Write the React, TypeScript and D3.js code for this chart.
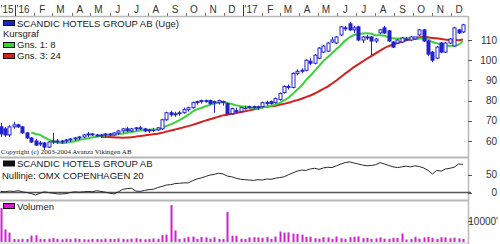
import React from 'react';
import * as d3 from 'd3';

// Weekly candles, Scandic Hotels Group AB (week dates start 9 Dec 2015)
const START = new Date(2015, 11, 9);

const opens = [67, 66, 63, 67, 68, 67, 64, 61.5, 60, 58.5, 59, 57, 59.5, 60, 59.5, 60, 60.5, 61, 61.5, 62,
  63, 63.5, 63, 62.5, 63, 63.5, 63, 64, 65, 66, 65, 66, 66.5, 66, 65, 65.5, 65.5, 66, 70.5, 74,
  73, 73.5, 74, 75.5, 76.5, 79, 79.5, 80, 80, 79, 79, 79, 78.5, 73.5, 75, 74.5, 76.5, 76.5, 77, 76.5,
  77, 79, 79.5, 79, 80.5, 84, 87, 86.5, 93.5, 94.5, 95, 99.5, 98.5, 101, 104, 104.5, 109, 108.5, 112.5, 116,
  118, 115, 116.5, 110, 111.5, 111.5, 109.5, 113.5, 116, 114.5, 109, 108.5, 109, 110, 110, 110.5, 112.5, 115, 109.5, 104,
  101, 108.5, 104, 108.5, 107, 115, 114];
const highs = [69, 67, 68, 69.5, 68.5, 67.5, 64.5, 62, 61, 60, 59.5, 60, 64, 61, 60.5, 61, 61.5, 62, 62.5, 63.5,
  64.5, 64, 63.5, 63.5, 64, 64, 64.5, 65.5, 66.5, 67, 66.5, 67, 67.5, 66.5, 66, 66.5, 67, 71, 74.5, 75,
  74.5, 75, 76.5, 77, 79.5, 80, 80.5, 80.5, 80.5, 80, 80.5, 80, 79, 76.5, 76.5, 77, 77.5, 77.5, 77.5, 77.5,
  79.5, 80, 80, 81.5, 84, 87.5, 88, 94, 95.5, 96, 100.5, 101, 103, 106.5, 107.5, 109, 111.5, 112, 117, 117,
  119, 117, 117, 112, 112.5, 112, 111, 115.5, 117, 115, 109.5, 110.5, 111.5, 111.5, 112, 111.5, 115.5, 115.5, 110, 104.5,
  107, 109, 109, 111, 116.5, 115.5, 118];
const lows = [62, 62, 62, 66, 66.5, 63.5, 61, 59, 57.5, 57.5, 55.5, 56.5, 58.5, 58.5, 58.5, 59, 59.5, 60, 60.5, 61.5,
  62, 62.5, 62, 61.5, 62, 62.5, 62.5, 63, 64, 64.5, 64.5, 65, 65.5, 64.5, 64, 64.5, 65, 65.5, 70, 72,
  72, 72.5, 73.5, 74.5, 76, 78, 78.5, 79, 78, 74, 78, 77.5, 73, 73, 74, 74, 75.5, 76, 76, 75.5,
  76.5, 77.5, 78, 78.5, 80, 83.5, 85.5, 86, 92.5, 93.5, 94.5, 97.5, 98, 100.5, 103.5, 104, 108.5, 108, 112, 114.5,
  114.5, 113.5, 109.5, 108.5, 110, 102.5, 108.5, 113, 113, 109, 106, 108, 108.5, 109.5, 109.5, 110, 112, 109, 102, 99,
  100.5, 103.5, 103.5, 108, 106.5, 113, 113.5];
const closes = [63.5, 63, 67, 68, 67, 64, 61.5, 59.5, 58, 59, 57, 59.5, 60, 59.5, 60, 60.5, 61, 61.5, 62, 63,
  63.5, 63, 62.5, 63, 63.5, 63, 64, 65, 66, 65, 66, 66.5, 66, 65, 65.5, 65.5, 66.5, 70.5, 74, 73,
  73.5, 74, 75.5, 76.5, 79, 79.5, 80, 79.5, 78.5, 79.5, 80, 79.5, 73.5, 76, 74.5, 76.5, 76.5, 77, 76.5, 77,
  79, 78.5, 78.5, 81, 83.5, 87, 86.5, 93.5, 94.5, 95, 100, 98.5, 102.5, 106, 107, 108.5, 110, 111.5, 116.5, 115.5,
  115, 116, 110, 111.5, 111, 109.5, 110.5, 115, 113.5, 109.5, 106.5, 110, 111, 110.5, 111.5, 111.5, 115, 109.5, 103, 100,
  106.5, 104, 108.5, 110.5, 116, 113.5, 117.5];

// Relative to OMX Copenhagen 20 (null line = 0)
const relValues = [3, 2, 4, 3, 5, 2, 0, -3, -7, -2, 2, 0, -2, -4, -4, -3, 0, 2, 1, 2,
  3, 2, 5, 3, 1, -2, -4, 2, 9, 11, 12, 4, 3, 6, 8, 9, 14, 17, 21, 22,
  25, 26, 27, 27, 33, 38, 41, 45, 49, 51, 54, 52, 46, 44, 40, 37, 36, 35, 34, 36,
  35, 38, 37, 40, 42, 44, 50, 55, 60, 63, 62, 66, 68, 65, 69, 71, 70, 75, 80, 84,
  86, 83, 80, 77, 75, 76, 78, 84, 80, 76, 72, 70, 72, 74, 72, 75, 73, 69, 62, 52,
  62, 60, 66, 68, 71, 80, 79];

// Weekly volume (thousands)
const volumes = [16200, 6000, 4500, 1400, 1300, 1500, 1400, 3000, 3200, 1500, 1400, 1600, 1900, 1500, 1300, 1600, 1400, 1700, 1500, 1300,
  1200, 1500, 1400, 1300, 1600, 1500, 1400, 1700, 1500, 1300, 1600, 1800, 1500, 1300, 1500, 1700, 1500, 3300, 3500, 17600,
  5500, 1500, 1800, 2500, 2600, 1500, 2400, 2200, 1600, 2300, 1500, 1400, 14300, 3000, 3000, 1500, 1400, 2200, 2300, 2200,
  2000, 2400, 1500, 2600, 5000, 4500, 4600, 4000, 3800, 3500, 2400, 2500, 1800, 1600, 2300, 2200, 1500, 2600, 1800, 1500,
  2300, 2500, 2700, 1800, 2000, 1500, 1700, 2200, 1600, 1500, 2000, 1900, 4000, 1200, 1400, 2500, 1600, 2200, 2400, 2000,
  1500, 2300, 2200, 1800, 2100, 1700, 1500];

const monthLabels = ["'15", "'16", 'F', 'M', 'A', 'M', 'J', 'J', 'A', 'S', 'O', 'N', 'D',
  "'17", 'F', 'M', 'A', 'M', 'J', 'J', 'A', 'S', 'O', 'N', 'D'];
const priceTicks = [60, 70, 80, 90, 100, 110];
const relTicks = [0, 50];
const volTicks = [10000];
const maPeriods = [8, 24];

const BLUE = '#2323cc';
const GREEN = '#3ad13a';
const RED = '#d42222';
const MAGENTA = '#d11fd1';
const FONT = 'Liberation Sans, Arial, sans-serif';

function sma(arr: number[], n: number): (number | null)[] {
  return arr.map((_, i) => (i < n - 1 ? null : (d3.mean(arr.slice(i - n + 1, i + 1)) as number)));
}

export default function App() {
  React.useEffect(() => {
    document.body.style.margin = '0';
  }, []);

  const x = d3.scaleTime().domain([new Date(2016, 0, 1), new Date(2017, 0, 1)]).range([15, 243]);
  const dates = closes.map((_, i) => d3.timeDay.offset(START, 7 * i));
  const yMain = d3.scaleLinear().domain([60, 110]).range([141, 40]);
  const yRel = d3.scaleLinear().domain([0, 50]).range([192.5, 174.7]);
  const yVol = d3.scaleLinear().domain([0, 10000]).range([242, 221]);

  const months = d3.timeMonth.range(new Date(2015, 11, 1), new Date(2018, 0, 1));

  const ma1 = sma(closes, maPeriods[0]);
  const ma2 = sma(closes, maPeriods[1]);
  const maLine = d3
    .line<number | null>()
    .defined((d) => d != null)
    .x((_, i) => x(dates[i]))
    .y((d) => yMain(d as number))
    .curve(d3.curveMonotoneX);
  const relLine = d3
    .line<number>()
    .x((_, i) => x(dates[i]))
    .y((d) => yRel(d));

  const px = (i: number) => Math.round(x(dates[i])) + 0.5;
  const RIGHT = 468;
  const textStyle = { fontFamily: FONT, fontSize: 9.5, fill: '#1a1a1a' };
  const axisStyle = { fontFamily: FONT, fontSize: 10, fill: '#333' };

  return (
    <svg width={500} height={244} style={{ position: 'absolute', left: 0, top: 0, background: '#fff' }}>
      <rect x={0} y={0} width={500} height={244} fill="#fff" />
      {/* top time axis */}
      <line x1={0} x2={RIGHT} y1={16.5} y2={16.5} stroke="#b8b8b8" strokeWidth={1.5} />
      {months.map((m, i) =>
        m.getMonth() === 0 ? (
          <line key={'t' + i} x1={Math.round(x(m)) + 0.5} x2={Math.round(x(m)) + 0.5} y1={5} y2={16} stroke="#333" strokeWidth={1} />
        ) : (
          <line key={'t' + i} x1={Math.round(x(m)) + 0.5} x2={Math.round(x(m)) + 0.5} y1={13} y2={16} stroke="#777" strokeWidth={1} />
        )
      )}
      {months.map((m, i) => (
        <text key={'m' + i} x={Math.max(x(d3.timeDay.offset(m, 13)), 7)} y={12.5} textAnchor="middle" style={axisStyle}>
          {monthLabels[i]}
        </text>
      ))}

      {/* panel frame */}
      <line x1={RIGHT + 0.5} x2={RIGHT + 0.5} y1={16} y2={244} stroke="#b8b8b8" strokeWidth={1.5} />
      <line x1={0} x2={RIGHT} y1={157.5} y2={157.5} stroke="#b8b8b8" strokeWidth={2} />
      <line x1={0} x2={RIGHT} y1={200.5} y2={200.5} stroke="#b8b8b8" strokeWidth={2} />
      <line x1={0} x2={RIGHT} y1={243} y2={243} stroke="#c8c8c8" strokeWidth={1} />

      {/* price axis */}
      {priceTicks.map((t) => (
        <g key={'p' + t}>
          <line x1={RIGHT} x2={RIGHT + 4} y1={Math.round(yMain(t)) + 0.5} y2={Math.round(yMain(t)) + 0.5} stroke="#555" />
          <text x={497} y={yMain(t)} dy="0.35em" textAnchor="end" style={axisStyle}>
            {t}
          </text>
        </g>
      ))}

      {/* moving averages */}
      <g clipPath="url(#mainClip)">
        <path d={maLine(ma2) || ''} fill="none" stroke={RED} strokeWidth={2} />
        <path d={maLine(ma1) || ''} fill="none" stroke={GREEN} strokeWidth={2} />
      </g>
      <defs>
        <clipPath id="mainClip">
          <rect x={0} y={17} width={RIGHT} height={140} />
        </clipPath>
      </defs>

      {/* candles */}
      {closes.map((c, i) => {
        const o = opens[i];
        const cx = px(i);
        const top = yMain(Math.max(o, c));
        const bot = yMain(Math.min(o, c));
        const up = c >= o;
        const h = Math.max(bot - top, 0);
        return (
          <g key={'c' + i}>
            <line x1={cx} x2={cx} y1={yMain(highs[i])} y2={yMain(lows[i])} stroke={BLUE} strokeWidth={1} />
            {h < 1 ? (
              <line x1={cx - 2} x2={cx + 2} y1={Math.round(top) + 0.5} y2={Math.round(top) + 0.5} stroke={BLUE} strokeWidth={1} />
            ) : (
              <rect x={cx - 1.5} y={top} width={3} height={h} fill={up ? '#fff' : BLUE} stroke={BLUE} strokeWidth={1} />
            )}
          </g>
        );
      })}

      {/* main legend */}
      <rect x={3.5} y={20.5} width={11} height={5} fill={BLUE} stroke="#111" strokeWidth={1} />
      <text x={17} y={26.8} style={textStyle}>SCANDIC HOTELS GROUP AB (Uge)</text>
      <text x={3} y={37.3} style={textStyle}>Kursgraf</text>
      <rect x={3.5} y={42.5} width={11} height={5} fill={GREEN} stroke="#111" strokeWidth={1} />
      <text x={17} y={48.3} style={textStyle}>{`Gns. 1: ${maPeriods[0]}`}</text>
      <rect x={3.5} y={53.5} width={11} height={5} fill={RED} stroke="#111" strokeWidth={1} />
      <text x={17} y={59.3} style={textStyle}>{`Gns. 3: ${maPeriods[1]}`}</text>
      <text x={1} y={154} style={{ fontFamily: 'Liberation Serif, Times New Roman, serif', fontSize: 7, fill: '#222' }}>
        Copyright (c) 2003-2004 Avanza Vikingen AB
      </text>

      {/* relative panel */}
      <line x1={0} x2={RIGHT + 3} y1={192.5} y2={192.5} stroke="#555" strokeWidth={1.5} />
      {relTicks.map((t) => (
        <g key={'r' + t}>
          <line x1={RIGHT} x2={RIGHT + 4} y1={Math.round(yRel(t)) + 0.5} y2={Math.round(yRel(t)) + 0.5} stroke="#555" />
          <text x={497} y={yRel(t)} dy="0.35em" textAnchor="end" style={axisStyle}>
            {t}
          </text>
        </g>
      ))}
      <path d={relLine(relValues) || ''} fill="none" stroke="#2a2a2a" strokeWidth={1} />
      <rect x={3.5} y={161} width={11} height={5} fill="#111" stroke="#111" strokeWidth={1} />
      <text x={17} y={166.5} style={textStyle}>SCANDIC HOTELS GROUP AB</text>
      <text x={2} y={178.5} style={textStyle}>Nullinje: OMX COPENHAGEN 20</text>

      {/* volume panel */}
      {volumes.map((v, i) => (
        <rect key={'v' + i} x={px(i) - 1} y={yVol(v)} width={2} height={yVol(0) - yVol(v)} fill={MAGENTA} />
      ))}
      {volTicks.map((t) => (
        <g key={'vt' + t}>
          <line x1={RIGHT} x2={RIGHT + 4} y1={Math.round(yVol(t)) + 0.5} y2={Math.round(yVol(t)) + 0.5} stroke="#555" />
          <text x={498} y={yVol(t)} dy="0.35em" textAnchor="end" style={axisStyle}>
            {`${t}'`}
          </text>
        </g>
      ))}
      <rect x={3.5} y={203.5} width={11} height={5} fill={MAGENTA} stroke="#111" strokeWidth={1} />
      <text x={17} y={209.5} style={textStyle}>Volumen</text>
    </svg>
  );
}
